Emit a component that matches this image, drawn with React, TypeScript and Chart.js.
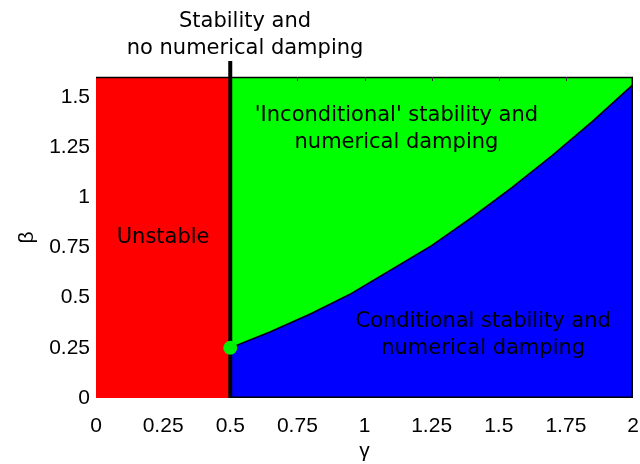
import React, { useEffect, useRef } from "react";
import { Chart, registerables } from "chart.js";

Chart.register(...registerables);

// Axis ranges and ticks
const xTicks = [0, 0.25, 0.5, 0.75, 1, 1.25, 1.5, 1.75, 2];
const xTickLabels = ["0", "0.25", "0.5", "0.75", "1", "1.25", "1.5", "1.75", "2"];
const yTicks = [0, 0.25, 0.5, 0.75, 1, 1.25, 1.5];
const yTickLabels = ["0", "0.25", "0.5", "0.75", "1", "1.25", "1.5"];
const xMin = 0;
const xMax = 2;
const yMin = 0;
const yMax = 1.6;

// Stability boundary (gamma, beta)
const boundaryGamma = [0.5, 0.65, 0.8, 0.95, 1.1, 1.25, 1.4, 1.55, 1.7, 1.85, 2.0];
const boundaryBeta = [0.25, 0.33, 0.42, 0.52, 0.64, 0.76, 0.9, 1.05, 1.21, 1.38, 1.5625];

// Regions
const unstableGamma = [0, 0.5];
const unstableBeta = [1.6, 1.6];
const dampedGamma = [0.5, 2];
const dampedBeta = [1.6, 1.6];

// Vertical line gamma = 0.5
const lineGamma = [0.5, 0.5];
const lineBeta = [0, 1.68];

// Special point
const pointGamma = [0.5];
const pointBeta = [0.25];

// Text annotations
const labelTexts = [
  ["Stability and", "no numerical damping"],
  ["'Inconditional' stability and", "numerical damping"],
  ["Unstable"],
  ["Conditional stability and", "numerical damping"],
];
const labelGamma = [0.555, 1.119, 0.25, 1.442];
const labelBeta = [1.81, 1.34, 0.80, 0.315];

const zip = (xs: number[], ys: number[]) => xs.map((x, i) => ({ x, y: ys[i] }));

const textFont = "21px 'DejaVu Sans'";
const tickFont = { family: "'Liberation Sans', Arial, sans-serif", size: 21 };

export default function App() {
  const ref = useRef<HTMLCanvasElement | null>(null);
  useEffect(() => {
    document.body.style.margin = "0";
    const canvas = ref.current;
    if (!canvas) return;

    const boxPlugin = {
      id: "boxAndText",
      afterDatasetsDraw(chart: any) {
        const { ctx, chartArea, scales } = chart;
        const xs = scales.x;
        const ys = scales.y;
        ctx.save();
        const x05 = xs.getPixelForValue(0.5);
        ctx.strokeStyle = "#000";
        ctx.lineWidth = 1.5;
        ctx.beginPath();
        ctx.moveTo(chartArea.left, chartArea.top + 0.5);
        ctx.lineTo(chartArea.right, chartArea.top + 0.5);
        ctx.moveTo(chartArea.right - 0.75, chartArea.top);
        ctx.lineTo(chartArea.right - 0.75, chartArea.bottom);
        ctx.moveTo(x05, chartArea.bottom - 0.75);
        ctx.lineTo(chartArea.right, chartArea.bottom - 0.75);
        ctx.stroke();
        // inward tick marks on top
        ctx.lineWidth = 1;
        ctx.beginPath();
        xTicks.forEach((t) => {
          const px = Math.round(xs.getPixelForValue(t)) + 0.5;
          if (t > 0.5 && t < 2) {
            ctx.moveTo(px, chartArea.top);
            ctx.lineTo(px, chartArea.top + 4);
          }
        });
        ctx.strokeStyle = "#333";
        ctx.stroke();
        // text labels
        ctx.fillStyle = "#000";
        ctx.font = textFont;
        ctx.textAlign = "center";
        ctx.textBaseline = "middle";
        labelTexts.forEach((lines, i) => {
          const cx = xs.getPixelForValue(labelGamma[i]);
          const cy = ys.getPixelForValue(labelBeta[i]);
          lines.forEach((ln, j) => {
            ctx.fillText(ln, cx, cy + (j - (lines.length - 1) / 2) * 27);
          });
        });
        ctx.restore();
      },
    };

    const chart = new Chart(canvas, {
      type: "scatter",
      data: {
        datasets: [
          {
            data: zip(pointGamma, pointBeta),
            showLine: false,
            pointRadius: 7,
            pointBackgroundColor: "#00ee00",
            pointBorderWidth: 0,
            borderColor: "#00ee00",
            order: 0,
            clip: false,
          } as any,
          {
            data: zip(lineGamma, lineBeta),
            showLine: true,
            borderColor: "#000",
            borderWidth: 4,
            pointRadius: 0,
            fill: false,
            order: 1,
            clip: false,
          },
          {
            data: zip(unstableGamma, unstableBeta),
            showLine: true,
            borderWidth: 0,
            borderColor: "rgba(0,0,0,0)",
            backgroundColor: "#ff0000",
            pointRadius: 0,
            fill: "origin",
            order: 2,
          },
          {
            data: zip(boundaryGamma, boundaryBeta),
            showLine: true,
            borderWidth: 1.5,
            borderColor: "#000",
            backgroundColor: "#0000ff",
            pointRadius: 0,
            fill: "origin",
            tension: 0,
            order: 3,
          },
          {
            data: zip(dampedGamma, dampedBeta),
            showLine: true,
            borderWidth: 0,
            borderColor: "rgba(0,0,0,0)",
            backgroundColor: "#00ff00",
            pointRadius: 0,
            fill: "origin",
            order: 4,
          },
        ],
      },
      options: {
        animation: false,
        responsive: false,
        maintainAspectRatio: false,
        layout: { padding: { top: 77, right: 4, left: 0, bottom: 0 } },
        plugins: {
          legend: { display: false },
          tooltip: { enabled: false },
          filler: { propagate: false },
        },
        scales: {
          x: {
            type: "linear",
            min: xMin,
            max: xMax,
            afterBuildTicks: (s: any) => {
              s.ticks = xTicks.map((v) => ({ value: v }));
            },
            afterFit: (s: any) => {
              s.height = 66;
              s.paddingLeft = 0;
              s.paddingRight = 0;
            },
            grid: { display: false, drawTicks: false },
            border: { display: false },
            ticks: {
              color: "#000",
              font: tickFont,
              padding: 16,
              maxRotation: 0,
              autoSkip: false,
              callback: (v: any) => {
                const i = xTicks.indexOf(Number(v));
                return i >= 0 ? xTickLabels[i] : "";
              },
            },
            title: {
              display: true,
              text: "γ",
              color: "#000",
              font: tickFont,
              padding: { top: 0, bottom: 0 },
            },
          },
          y: {
            type: "linear",
            min: yMin,
            max: yMax,
            afterBuildTicks: (s: any) => {
              s.ticks = yTicks.map((v) => ({ value: v }));
            },
            afterFit: (s: any) => {
              s.width = 96;
              s.paddingTop = 0;
              s.paddingBottom = 0;
            },
            grid: { display: false, drawTicks: false },
            border: { display: false },
            ticks: {
              color: "#000",
              font: tickFont,
              padding: 6,
              autoSkip: false,
              callback: (v: any) => {
                const i = yTicks.indexOf(Number(v));
                return i >= 0 ? yTickLabels[i] : "";
              },
            },
            title: {
              display: true,
              text: "β",
              color: "#000",
              font: tickFont,
              padding: { top: 15, bottom: 0 },
            },
          },
        },
      },
      plugins: [boxPlugin],
    } as any);
    return () => chart.destroy();
  }, []);
  return (
    <div style={{ width: 640, height: 464, position: "relative" }}>
      <canvas ref={ref} width={640} height={464} style={{ display: "block" }} />
    </div>
  );
}
